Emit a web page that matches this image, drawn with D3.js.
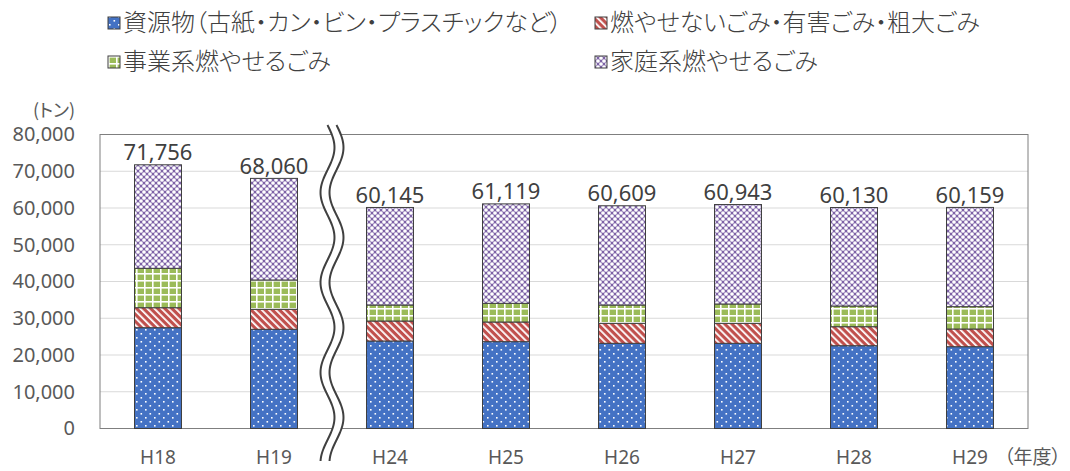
<!DOCTYPE html>
<html>
<head>
<meta charset="utf-8">
<script src="https://cdn.jsdelivr.net/npm/d3@7"></script>
<style>
    body { margin: 0; background: #fff; }
    svg { display: block; }
    .num { font-family: 'Noto Sans', 'DejaVu Sans', sans-serif; }
    .jp { font-family: 'Noto Sans CJK JP', sans-serif; font-feature-settings: 'palt'; }
</style>
</head>
<body>
<svg class="chart"></svg>
<script>
const years = [ 'H18', 'H19', 'H24', 'H25', 'H26', 'H27', 'H28', 'H29' ]
const totals = [ 71756, 68060, 60145, 61119, 60609, 60943, 60130, 60159 ]

const shigen = [ 27430, 26990, 23810, 23630, 23180, 23180, 22530, 22260 ]
const funen = [ 5440, 5440, 5440, 5350, 5440, 5440, 5170, 4815 ]
const jigyo = [ 10720, 7980, 4350, 5080, 4980, 5260, 5630, 6075 ]
const katei = [ 28166, 27650, 26545, 27059, 27009, 27063, 26800, 27009 ]

const seriesNames = [
    '資源物（古紙・カン・ビン・プラスチックなど）',
    '燃やせないごみ・有害ごみ・粗大ごみ',
    '事業系燃やせるごみ',
    '家庭系燃やせるごみ'
]
const yTicks = [ 0, 10000, 20000, 30000, 40000, 50000, 60000, 70000, 80000 ]

const drawChart = () => {

    const width = 1070
    const height = 471

    const plot = { left: 100, right: 1028, top: 134.5, bottom: 428.5 }

    const svg = d3.select('.chart')
        .attr('width', width)
        .attr('height', height)

    // patterns, one per series
    const defs = svg.append('defs')

    const pBlue = defs.append('pattern').attr('id', 'p0')
        .attr('patternUnits', 'userSpaceOnUse').attr('width', 9).attr('height', 8)
    pBlue.append('rect').attr('width', 9).attr('height', 8).attr('fill', '#4472c4')
    pBlue.append('rect').attr('x', 1).attr('y', 1).attr('width', 1.6).attr('height', 1.6).attr('fill', '#fff')
    pBlue.append('rect').attr('x', 5.5).attr('y', 5).attr('width', 1.6).attr('height', 1.6).attr('fill', '#fff')

    const pRed = defs.append('pattern').attr('id', 'p1')
        .attr('patternUnits', 'userSpaceOnUse').attr('width', 5).attr('height', 5)
        .attr('patternTransform', 'rotate(-45)')
    pRed.append('rect').attr('width', 5).attr('height', 5).attr('fill', '#c0504d')
    pRed.append('rect').attr('width', 1.8).attr('height', 5).attr('fill', '#fff')

    const pGreen = defs.append('pattern').attr('id', 'p2')
        .attr('patternUnits', 'userSpaceOnUse').attr('width', 8).attr('height', 7)
    pGreen.append('rect').attr('width', 8).attr('height', 7).attr('fill', '#fff')
    pGreen.append('rect').attr('x', 1.6).attr('y', 1.6).attr('width', 6.4).attr('height', 5.4).attr('fill', '#9bbb59')

    const pPurple = defs.append('pattern').attr('id', 'p3')
        .attr('patternUnits', 'userSpaceOnUse').attr('width', 6).attr('height', 6)
    pPurple.append('rect').attr('width', 6).attr('height', 6).attr('fill', '#7d62a6')
    ;[ [0, 0], [6, 0], [0, 6], [6, 6], [3, 3] ].forEach(c => {
        pPurple.append('circle').attr('cx', c[0]).attr('cy', c[1]).attr('r', 1.85).attr('fill', '#fff')
    })

    const xScale = d3.scaleBand()
        .domain(years)
        .range([ plot.left, plot.right ])
        .paddingInner(0.595)
        .paddingOuter(0.2975)

    const yScale = d3.scaleLinear()
        .domain([ 0, 80000 ])
        .range([ plot.bottom, plot.top ])

    // gridlines
    svg.append('g')
        .selectAll('line')
        .data(yTicks.slice(1, -1))
        .enter()
        .append('line')
        .attr('x1', plot.left)
        .attr('x2', plot.right)
        .attr('y1', d => yScale(d))
        .attr('y2', d => yScale(d))
        .attr('stroke', '#d9d9d9')
        .attr('stroke-width', 1)

    // plot frame
    svg.append('rect')
        .attr('x', plot.left)
        .attr('y', plot.top)
        .attr('width', plot.right - plot.left)
        .attr('height', plot.bottom - plot.top)
        .attr('fill', 'none')
        .attr('stroke', '#7f7f7f')
        .attr('stroke-width', 1)

    // stacked bars
    const rows = years.map((y, i) => ({
        year: y, s0: shigen[i], s1: funen[i], s2: jigyo[i], s3: katei[i]
    }))
    const stack = d3.stack().keys([ 's0', 's1', 's2', 's3' ])(rows)

    const layers = svg.append('g')
        .selectAll('g')
        .data(stack)
        .enter()
        .append('g')
        .attr('fill', (d, i) => `url(#p${i})`)

    layers.selectAll('rect')
        .data(d => d)
        .enter()
        .append('rect')
        .attr('x', d => xScale(d.data.year))
        .attr('width', xScale.bandwidth())
        .attr('y', d => yScale(d[1]))
        .attr('height', d => yScale(d[0]) - yScale(d[1]))
        .attr('stroke', '#3f3f3f')
        .attr('stroke-width', 1)

    // total labels
    svg.append('g')
        .selectAll('text')
        .data(totals)
        .enter()
        .append('text')
        .attr('class', 'num')
        .attr('x', (d, i) => xScale(years[i]) + xScale.bandwidth() / 2)
        .attr('y', d => yScale(d) - 4.5)
        .style('text-anchor', 'middle')
        .style('font-size', '22px')
        .attr('fill', '#404040')
        .text(d => d3.format(',')(d))

    // y axis
    const yAxis = svg.append('g')
        .attr('transform', `translate(${plot.left}, 0)`)
        .call(d3.axisLeft(yScale).tickValues(yTicks).tickSize(0).tickPadding(25).tickFormat(d3.format(',')))
    yAxis.select('.domain').remove()
    yAxis.selectAll('text')
        .attr('class', 'num')
        .style('font-size', '20px')
        .attr('fill', '#595959')

    // x axis
    const xAxis = svg.append('g')
        .attr('transform', `translate(0, ${plot.bottom})`)
        .call(d3.axisBottom(xScale).tickSize(0).tickPadding(22))
    xAxis.select('.domain').remove()
    xAxis.selectAll('text')
        .attr('class', 'num')
        .style('font-size', '19px')
        .attr('fill', '#595959')

    // axis break between H19 and H24
    const breakX = (xScale('H19') + xScale.bandwidth() + xScale('H24')) / 2
    const wave = (off) => d3.range(125, 462, 2).map(y => [ breakX - 4.5 + off + 7 * Math.sin(2 * Math.PI * (y - 125) / 90), y ])
    const left = wave(0)
    const right = wave(9)

    svg.append('path')
        .attr('d', d3.line()(left.concat(right.slice().reverse())) + 'Z')
        .attr('fill', '#fff')
    ;[ left, right ].forEach(pts => {
        svg.append('path')
            .attr('d', d3.line().curve(d3.curveBasis)(pts))
            .attr('fill', 'none')
            .attr('stroke', '#404040')
            .attr('stroke-width', 2)
    })

    // units
    svg.append('text')
        .attr('class', 'jp')
        .attr('x', 75)
        .attr('y', 117)
        .style('text-anchor', 'end')
        .style('font-size', '18px')
        .attr('fill', '#595959')
        .text('(トン)')

    svg.append('text')
        .attr('class', 'jp')
        .attr('x', 1004)
        .attr('y', 464)
        .style('font-size', '19px')
        .attr('fill', '#595959')
        .text('（年度）')

    // legend
    const legendPos = [ [ 108, 31 ], [ 595, 31 ], [ 108, 70 ], [ 595, 70 ] ]
    const legend = svg.append('g')
        .selectAll('g')
        .data(seriesNames)
        .enter()
        .append('g')
        .attr('transform', (d, i) => `translate(${legendPos[i][0]}, ${legendPos[i][1]})`)

    legend.append('rect')
        .attr('x', 0)
        .attr('y', -14)
        .attr('width', 12)
        .attr('height', 12)
        .attr('fill', (d, i) => `url(#p${i})`)
        .attr('stroke', '#3f3f3f')
        .attr('stroke-width', 1)

    legend.append('text')
        .attr('class', 'jp')
        .attr('x', 15)
        .attr('y', 0)
        .style('font-size', '24px')
        .style('font-weight', 300)
        .attr('fill', '#404040')
        .text(d => d)
}

drawChart()
</script>
</body>
</html>
